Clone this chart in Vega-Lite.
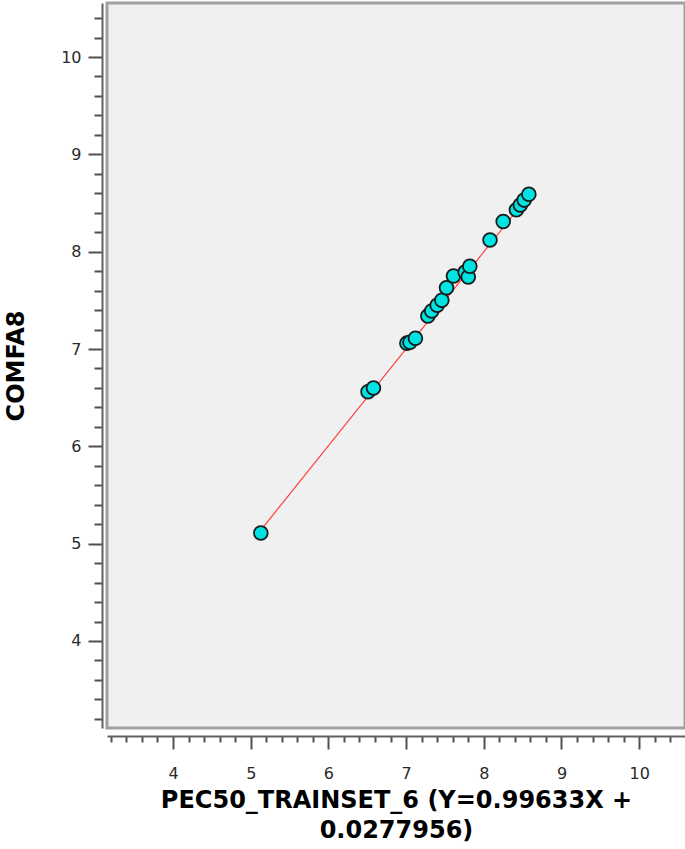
{
  "$schema": "https://vega.github.io/schema/vega-lite/v6.json",
  "autosize": {"type": "none"},
  "padding": {"left": 107, "top": 3, "right": 0, "bottom": 121},
  "width": 578,
  "height": 725,
  "background": "white",
  "config": {
    "view": {"fill": "#f0f0f0", "stroke": "#a0a0a0", "strokeWidth": 3},
    "axis": {
      "grid": false,
      "domainColor": "#606060",
      "domainWidth": 2,
      "tickColor": "#505050",
      "tickWidth": 2,
      "tickCount": 100,
      "labelFont": "DejaVu Sans",
      "labelFontSize": 16,
      "labelColor": "#2a2a2a",
      "titleFont": "DejaVu Sans",
      "titleFontWeight": "bold",
      "titleFontSize": 24,
      "titleColor": "#000000"
    }
  },
  "datasets": {
    "pts": [
      {"x": 5.13, "y": 5.11},
      {"x": 6.51, "y": 6.56},
      {"x": 6.58, "y": 6.60},
      {"x": 7.01, "y": 7.06},
      {"x": 7.05, "y": 7.07},
      {"x": 7.12, "y": 7.11},
      {"x": 7.28, "y": 7.34},
      {"x": 7.33, "y": 7.39},
      {"x": 7.40, "y": 7.45},
      {"x": 7.46, "y": 7.50},
      {"x": 7.52, "y": 7.63},
      {"x": 7.61, "y": 7.75},
      {"x": 7.76, "y": 7.79},
      {"x": 7.80, "y": 7.74},
      {"x": 7.82, "y": 7.85},
      {"x": 8.08, "y": 8.12},
      {"x": 8.25, "y": 8.31},
      {"x": 8.42, "y": 8.43},
      {"x": 8.47, "y": 8.48},
      {"x": 8.52, "y": 8.53},
      {"x": 8.58, "y": 8.59}
    ],
    "fit": [
      {"x": 5.13, "y": 5.139},
      {"x": 8.58, "y": 8.576}
    ]
  },
  "layer": [
    {
      "data": {"name": "fit"},
      "mark": {"type": "line", "color": "#ff4040", "strokeWidth": 1.2},
      "encoding": {
        "x": {"field": "x", "type": "quantitative"},
        "y": {"field": "y", "type": "quantitative"}
      }
    },
    {
      "data": {"name": "pts"},
      "mark": {"type": "point", "shape": "circle", "filled": true, "fill": "#00e3e3", "stroke": "#1a1a1a", "strokeWidth": 1.8, "size": 190, "opacity": 1},
      "encoding": {
        "x": {
          "field": "x", "type": "quantitative",
          "scale": {"domain": [3.15, 10.59], "nice": false, "zero": false},
          "axis": {
            "orient": "bottom",
            "offset": 8,
            "values": [3.2,3.4,3.6,3.8,4,4.2,4.4,4.6,4.8,5,5.2,5.4,5.6,5.8,6,6.2,6.4,6.6,6.8,7,7.2,7.4,7.6,7.8,8,8.2,8.4,8.6,8.8,9,9.2,9.4,9.6,9.8,10,10.2,10.4],
            "labelExpr": "datum.value % 1 === 0 ? format(datum.value, 'd') : ''",
            "tickSize": {"condition": {"test": "datum.value % 1 === 0", "value": 13}, "value": 6},
            "labelPadding": 16,
            "labelFlush": false,
            "labelOverlap": false,
            "title": ["PEC50_TRAINSET_6 (Y=0.99633X +", "0.0277956)"],
            "titlePadding": 7,
            "titleLineHeight": 30
          }
        },
        "y": {
          "field": "y", "type": "quantitative",
          "scale": {"domain": [3.106, 10.555], "nice": false, "zero": false},
          "axis": {
            "orient": "left",
            "offset": 5,
            "values": [3.2,3.4,3.6,3.8,4,4.2,4.4,4.6,4.8,5,5.2,5.4,5.6,5.8,6,6.2,6.4,6.6,6.8,7,7.2,7.4,7.6,7.8,8,8.2,8.4,8.6,8.8,9,9.2,9.4,9.6,9.8,10,10.2,10.4],
            "labelExpr": "datum.value % 1 === 0 ? format(datum.value, 'd') : ''",
            "tickSize": {"condition": {"test": "datum.value % 1 === 0", "value": 14}, "value": 8},
            "labelPadding": 7,
            "labelFlush": false,
            "labelOverlap": false,
            "title": "COMFA8",
            "titlePadding": 32
          }
        }
      }
    }
  ]
}
